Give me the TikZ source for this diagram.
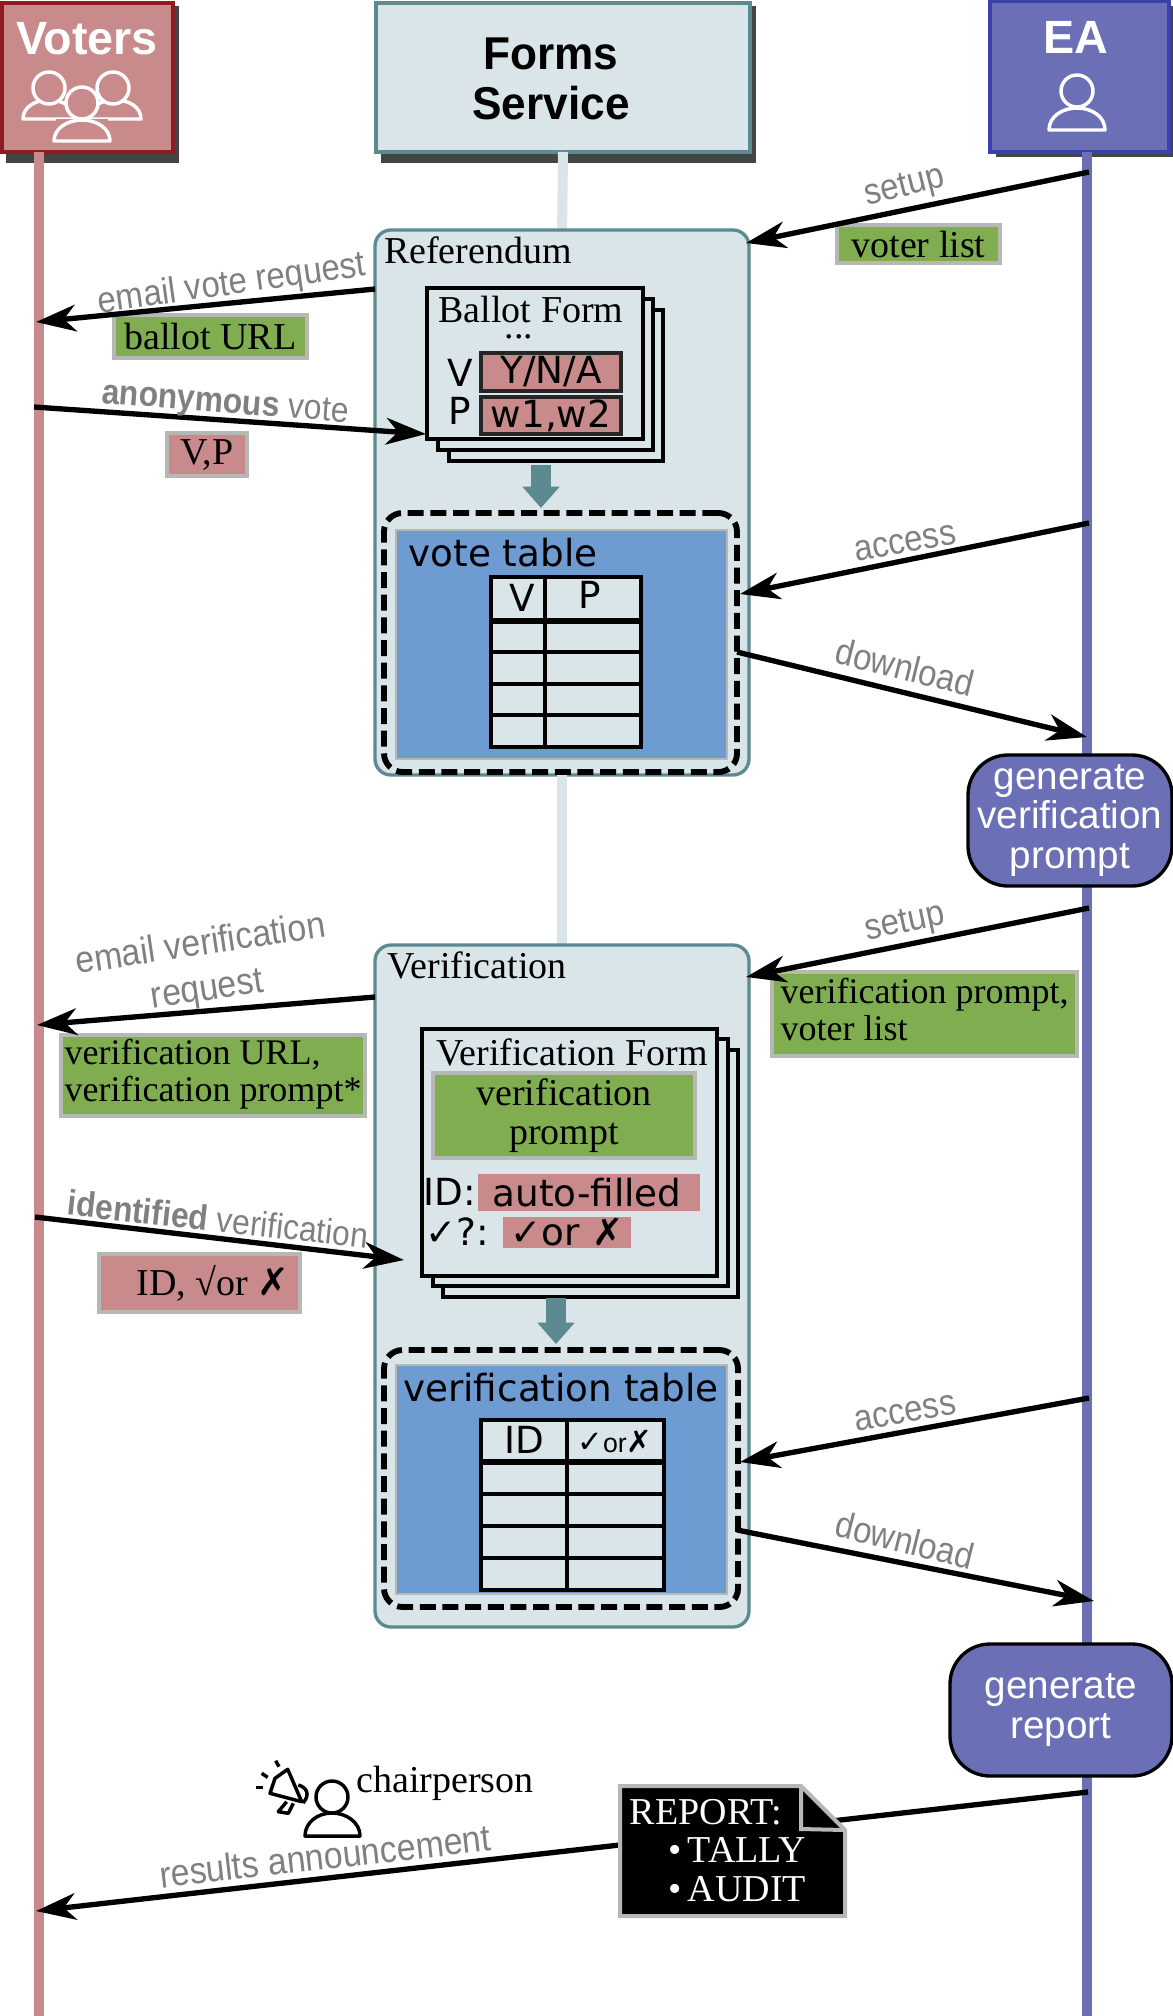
\documentclass[tikz,border=0pt]{standalone}
\usepackage{fontspec}
\setmainfont{Liberation Serif}
\newfontfamily\dv{DejaVu Sans}
\newfontfamily\lib{Liberation Sans}
\newfontfamily\libc[FakeStretch=0.9]{Liberation Sans}
\newfontfamily\libf[FakeStretch=0.96]{Liberation Sans}
\usetikzlibrary{arrows.meta}
\definecolor{redf}{HTML}{C98A8C}
\definecolor{redb}{HTML}{8E1B1F}
\definecolor{lightf}{HTML}{D9E5E8}
\definecolor{tealb}{HTML}{5B8A90}
\definecolor{eaf}{HTML}{6B6FB5}
\definecolor{eab}{HTML}{3A40AE}
\definecolor{greenf}{HTML}{7FAD4F}
\definecolor{grayb}{HTML}{B5B8B3}
\definecolor{bluef}{HTML}{6F9BD3}
\definecolor{labg}{HTML}{808080}
\definecolor{shad}{HTML}{444444}
\newcommand{\bx}[7]{%
  \pgfmathsetmacro\bxcx{(#3+#5)/2}%
  \pgfmathsetmacro\bxcy{(#4+#6)/2}%
  \pgfmathsetmacro\bxw{(#5-#3)*0.75}%
  \pgfmathsetmacro\bxh{(#6-#4)*0.75}%
  \node[#2,minimum width=\bxw pt,minimum height=\bxh pt,inner sep=0pt,outer sep=0pt] (#1) at (\bxcx,\bxcy) {#7};}
\tikzset{
  actor/.style={font=\lib\bfseries\fontsize{35}{37}\selectfont,align=center},
  actorf/.style={font=\libf\bfseries\fontsize{34.5}{36}\selectfont,align=center},
  lifeline/.style={line width=7.5pt},
  msg/.style={line width=4pt,-{Stealth[length=30pt,width=20pt,inset=9pt]}},
  fatarrow/.style={line width=15pt,tealb,-{Triangle[length=16pt,width=27pt]}},
  lab/.style={font=\libc\fontsize{27.5}{32}\selectfont,text=labg,align=center,inner sep=0pt},
  labn/.style={lab,font=\libc\fontsize{26.5}{32}\selectfont},
  labw/.style={lab,font=\libc\fontsize{28.2}{34}\selectfont},
  ser/.style={font=\fontsize{28.5}{29}\selectfont,align=center,inner sep=0pt},
  sern/.style={font=\fontsize{27}{29}\selectfont,align=center},
  dvs/.style={font=\dv\fontsize{28}{30}\selectfont,inner sep=0pt},
  greenbox/.style={fill=greenf,draw=grayb,line width=3.5pt,ser},
  greenwide/.style={fill=greenf,draw=grayb,line width=3.5pt,sern},
  redbox/.style={fill=redf,draw=grayb,line width=3.5pt,ser},
  fieldbox/.style={fill=redf,draw=black!85,line width=3pt,dvs},
  plainred/.style={fill=redf,dvs},
  form/.style={fill=lightf,draw=black,line width=3pt},
  group/.style={fill=lightf,draw=tealb,line width=2.5pt,rounded corners=12pt},
  tbl/.style={fill=lightf,draw=black,line width=2.5pt},
  rule/.style={line width=2.5pt},
  dashbox/.style={draw=black,line width=4.4pt,rounded corners=14pt,dash pattern=on 12pt off 5pt},
  proc/.style={fill=eaf,draw=black,line width=2.5pt,rounded corners=30pt,text=white,font=\lib\fontsize{29}{29.3}\selectfont,align=center},
  icon/.style={line width=2.6pt,line join=round},
}
\begin{document}
\begin{tikzpicture}[x=0.75pt,y=-0.75pt]
\useasboundingbox (0,0) rectangle (1173,2016);
% lifeline ends
\coordinate (vEnd) at (39,2016);
\coordinate (eEnd) at (1087,2016);
% shadows
\fill[shad] (6,6) rectangle (179,163);
\fill[shad] (381,6) rectangle (756,163);
\fill[shad] (996,6) rectangle (1173,157);
% actors
\bx{voters}{fill=redf,draw=redb,line width=3pt}{2}{3}{173}{152}{}
\bx{forms}{fill=lightf,draw=tealb,line width=3pt}{376}{3}{750}{152}{}
\bx{ea}{fill=eaf,draw=eab,line width=3pt}{990}{1}{1169}{152}{}
\node[actor,text=white] (tVoters) at (87,39) {Voters};
\node[actorf] (tForms) at (551,79) {Forms\\[1pt]Service};
\node[actor,text=white] (tEA) at (1076,37) {EA};
% lifelines
\draw[lifeline,redf] (voters.south -| vEnd) -- (vEnd);
\draw[lifeline,eaf] (ea.south -| eEnd) -- (eEnd);
% icons
\draw[icon,draw=white] (23,119) .. controls (23,107) and (35,100) .. (49,100) .. controls (63,100) and (75,107) .. (75,119) -- cycle;
\draw[icon,draw=white] (89,119) .. controls (89,107) and (101,100) .. (115,100) .. controls (129,100) and (141,107) .. (141,119) -- cycle;
\draw[icon,draw=white,fill=redf] (49,88) circle [radius=16];
\draw[icon,draw=white,fill=redf] (113,88) circle [radius=16];
\fill[redf] (56,119) rectangle (108,142);
\draw[icon,draw=white,fill=redf] (82,103) circle [radius=16];
\draw[icon,draw=white,fill=redf] (54,141) .. controls (54,128) and (68,120) .. (82,120) .. controls (96,120) and (110,128) .. (110,141) -- cycle;
\draw[icon,draw=white] (1077,91) circle [radius=16];
\draw[icon,draw=white] (1049,130) .. controls (1049,116) and (1063,108) .. (1077,108) .. controls (1091,108) and (1105,116) .. (1105,130) -- cycle;
% groups
\draw[lifeline,lightf] (forms.south) -- (562,240);
\bx{ref}{group}{375}{230}{749}{775}{}
\draw[lifeline,lightf] (ref.south) -- (562,950);
\bx{ver}{group}{375}{945}{749}{1627}{}
\node[ser] (tRef) at (478,250) {Referendum};
\node[ser] (tVer) at (477,965) {Verification};
% ballot form stack
\bx{b3}{form}{449}{310}{663}{461}{}
\bx{b2}{form}{438}{299}{653}{450}{}
\bx{b1}{form}{427}{288}{643}{439}{}
\node[ser] (tBallot) at (531,309) {Ballot Form};
\node[ser] (tDots) at (519,337) {...};
\node[dvs] (tV) at (460,373) {V};
\node[dvs] (tP) at (460,411) {P};
\bx{yna}{fieldbox}{481}{353}{621}{391}{Y/N/A}
\bx{wts}{fieldbox}{481}{397}{621}{434}{w1,w2}
\coordinate (f1a) at (541,465);
\coordinate (f1b) at (541,508);
\draw[fatarrow] (f1a) -- (f1b);
% vote table
\bx{vtblue}{fill=bluef,draw=grayb,line width=2pt}{396}{530}{727}{759}{}
\bx{vtdash}{dashbox}{384}{513}{737}{772}{}
\node[dvs] (tVT) at (503,553) {vote table};
\bx{vt}{tbl}{491}{577}{641}{747}{}
\draw[rule] (vt.north -| 545,0) -- (vt.south -| 545,0);
\draw[line width=4pt] (vt.west |- 0,621) -- (vt.east |- 0,621);
\foreach \ry in {652,684,715} \draw[rule] (vt.west |- 0,\ry) -- (vt.east |- 0,\ry);
\node[dvs] (hV) at (522,598) {V};
\node[dvs] (hP) at (590,595) {P};
% verification form stack
\bx{f3}{form}{443}{1050}{738}{1297}{}
\bx{f2}{form}{433}{1039}{728}{1286}{}
\bx{f1}{form}{422}{1029}{717}{1276}{}
\node[ser] (tVF) at (572,1052) {Verification Form};
\bx{vpb}{greenbox}{433}{1073}{695}{1158}{verification\\prompt}
\node[dvs] (tID) at (450,1192) {ID:};
\bx{autof}{plainred}{478}{1174}{700}{1211}{\hspace*{-3pt}auto-filled}
\node[dvs] (tChk) at (457,1232) {✓?:};
\bx{chkor}{plainred}{503}{1217}{631}{1248}{✓or ✗}
\coordinate (f2a) at (556,1298);
\coordinate (f2b) at (556,1344);
\draw[fatarrow] (f2a) -- (f2b);
% verification table
\bx{vrblue}{fill=bluef,draw=grayb,line width=2pt}{396}{1365}{727}{1594}{}
\bx{vrdash}{dashbox}{384}{1350}{738}{1607}{}
\node[dvs] (tVRT) at (561,1388) {verification table};
\bx{vr}{tbl}{481}{1420}{664}{1590}{}
\draw[rule] (vr.north -| 567,0) -- (vr.south -| 567,0);
\draw[line width=4pt] (vr.west |- 0,1462) -- (vr.east |- 0,1462);
\foreach \ry in {1494,1526,1558} \draw[rule] (vr.west |- 0,\ry) -- (vr.east |- 0,\ry);
\node[dvs] (hID) at (524,1440) {ID};
\node (hChk) at (615,1441) {\dv\fontsize{23}{25}\selectfont ✓\lib\fontsize{20}{22}\selectfont or\dv\fontsize{23}{25}\selectfont ✗};
% data boxes
\bx{dVoter}{greenbox}{837}{225}{1000}{263}{voter list}
\bx{dBallot}{greenbox}{114}{315}{307}{358}{ballot URL}
\bx{dVP}{redbox}{167}{433}{247}{476}{V,P}
\bx{dPrompt}{greenwide}{772}{972}{1077}{1056}{\begin{tabular}{@{}l@{}}verification prompt,\\[-1pt]voter list\end{tabular}}
\bx{dURL}{greenwide}{61}{1035}{365}{1116}{\begin{tabular}{@{}l@{}}verification URL,\\[-1pt]verification prompt*\end{tabular}}
\bx{dID}{redbox}{99}{1254}{300}{1312}{\hspace*{20pt}ID, √or {\dv\bfseries ✗}}
% process boxes
\bx{genv}{proc}{968}{755}{1172}{886}{generate\\verification\\prompt}
\bx{genr}{proc}{950}{1644}{1172}{1776}{generate\\report}
% message coordinates
\coordinate (m1a) at (1089,172); \coordinate (m1b) at (746,243);
\coordinate (m2a) at (375,289);  \coordinate (m2b) at (36,322);
\coordinate (m3a) at (34,407);   \coordinate (m3b) at (426,434);
\coordinate (m4a) at (1089,523); \coordinate (m4b) at (740,594);
\coordinate (m5a) at (737,652);  \coordinate (m5b) at (1087,737);
\coordinate (m6a) at (1089,908); \coordinate (m6b) at (746,977);
\coordinate (m7a) at (375,997);  \coordinate (m7b) at (37,1025);
\coordinate (m8a) at (35,1217);  \coordinate (m8b) at (404,1260);
\coordinate (m9a) at (1089,1398);\coordinate (m9b) at (740,1462);
\coordinate (m10a) at (737,1530);\coordinate (m10b) at (1094,1601);
\coordinate (m11a) at (1088,1792);\coordinate (m11b) at (36,1911);
\draw[msg] (m1a) -- (m1b);
\draw[msg] (m2a) -- (m2b);
\draw[msg] (m3a) -- (m3b);
\draw[msg] (m4a) -- (m4b);
\draw[msg] (m5a) -- (m5b);
\draw[msg] (m6a) -- (m6b);
\draw[msg] (m7a) -- (m7b);
\draw[msg] (m8a) -- (m8b);
\draw[msg] (m9a) -- (m9b);
\draw[msg] (m10a) -- (m10b);
\draw[msg] (m11a) -- (m11b);
% labels
\node[lab,rotate=14] (l1) at (905,188) {setup};
\node[lab,rotate=8] (l2) at (232,285) {email vote request};
\node[labn,rotate=-4.5] (l3) at (225,405) {{\bfseries anonymous} vote};
\node[lab,rotate=10] (l4) at (905,543) {access};
\node[lab,rotate=-14] (l5) at (905,667) {download};
\node[lab,rotate=12] (l6) at (905,924) {setup};
\node[labw,rotate=8.5] (l7) at (204,968) {email verification\\request};
\node[labn,rotate=-6.3] (l8) at (218,1219) {{\bfseries identified} verification};
\node[lab,rotate=10] (l9) at (905,1413) {access};
\node[lab,rotate=-14] (l10) at (905,1540) {download};
\node[labw,rotate=6.5] (l11) at (325,1856) {results announcement};
% report document
\filldraw[fill=black,draw=grayb,line width=3pt] (620,1786) -- (801,1786) -- (845,1830) -- (845,1916) -- (620,1916) -- cycle;
\draw[grayb,line width=3pt] (801,1786) -- (801,1829) -- (845,1830);
\node[ser,text=white] (rT) at (706,1812) {REPORT:};
\node[ser,text=white] (rA) at (737,1850) {•\,TALLY};
\node[ser,text=white] (rB) at (737,1889) {•\,AUDIT};
% chairperson
\node[ser] (tCh) at (445,1783) {chairperson};
\draw[icon,draw=black] (332,1797) circle [radius=16];
\draw[icon,draw=black] (305,1836) .. controls (305,1822) and (318,1813) .. (332,1813) .. controls (346,1813) and (360,1822) .. (360,1836) -- cycle;
\draw[icon,draw=black,fill=white] (287.7,1769.3) -- (301.7,1801.7) -- (270,1793.3) -- (275,1778.3) -- cycle;
\draw[icon,draw=black] (298.3,1785) .. controls (306,1787) and (311,1794) .. (303,1803);
\draw[icon,draw=black] (286.7,1801.7) -- (278.3,1811.7) -- (288.3,1813.3) -- (293.3,1803.3);
\draw[icon,draw=black] (275.7,1760.7) -- (279,1766.7);
\draw[icon,draw=black] (261.7,1773.3) -- (267.7,1777.3);
\draw[icon,draw=black] (256,1787.3) -- (263.3,1787.3);
\end{tikzpicture}
\end{document}
